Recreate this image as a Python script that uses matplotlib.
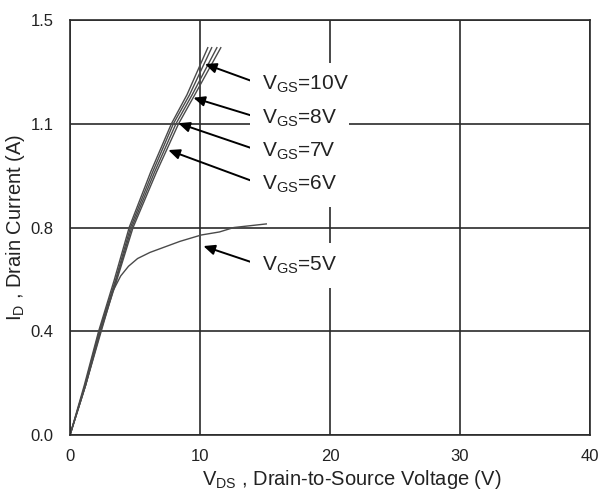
import matplotlib

matplotlib.use("Agg")
import matplotlib.pyplot as plt
import numpy as np

plt.rcParams["font.family"] = ["Liberation Sans", "DejaVu Sans"]
plt.rcParams["mathtext.default"] = "regular"

# Output characteristics, I_D vs V_DS for several gate voltages
vds_10 = [0, 1.1, 2.2, 3.4, 4.55, 6.2, 7.8, 9.0, 10.6]
id_10 = [0, 0.18, 0.375, 0.56, 0.75, 0.95, 1.125, 1.23, 1.40]
vds_8 = [0, 1.15, 2.25, 3.5, 4.65, 6.35, 7.95, 9.2, 10.9]
id_8 = [0, 0.18, 0.375, 0.56, 0.75, 0.95, 1.125, 1.23, 1.40]
vds_7 = [0, 1.2, 2.3, 3.55, 4.75, 6.5, 8.15, 9.4, 11.3]
id_7 = [0, 0.18, 0.375, 0.56, 0.75, 0.95, 1.125, 1.23, 1.40]
vds_6 = [0, 1.2, 2.35, 3.6, 4.85, 6.65, 8.35, 9.6, 11.6]
id_6 = [0, 0.18, 0.375, 0.56, 0.75, 0.95, 1.125, 1.23, 1.40]
vds_5 = [0, 1.2, 2.4, 3.3, 3.9, 4.5, 5.2, 6.15, 8.46, 10.1, 11.5, 12.6, 15.1]
id_5 = [0, 0.18, 0.375, 0.52, 0.575, 0.61, 0.638, 0.66, 0.70, 0.723, 0.734, 0.75, 0.763]

x_ticks = [0, 10, 20, 30, 40]
y_ticks = [0, 0.375, 0.75, 1.125, 1.5]
y_tick_labels = ["0.0", "0.4", "0.8", "1.1", "1.5"]

# label text, arrow tip (V, A), text anchor (V, A)
labels = ["$V_{GS}$=10V", "$V_{GS}$=8V", "$V_{GS}$=7V", "$V_{GS}$=6V", "$V_{GS}$=5V"]
tips = [(10.38, 1.341), (9.49, 1.219), (8.33, 1.127), (7.56, 1.030), (10.26, 0.683)]
text_pos = [(14.75, 1.247), (14.75, 1.124), (14.75, 1.005), (14.75, 0.886), (14.75, 0.593)]

fig = plt.figure(figsize=(6.03, 4.93), dpi=100)
ax = fig.add_axes([0.1161, 0.1176, 0.8623, 0.8418])

line_kw = dict(color="#4a4a4a", lw=1.0)
for vx, iy in [(vds_10, id_10), (vds_8, id_8), (vds_7, id_7), (vds_6, id_6), (vds_5, id_5)]:
    ax.plot(vx, iy, **line_kw)

ax.set_xlim(0, 40)
ax.set_ylim(0, 1.5)
ax.set_xticks(x_ticks)
ax.set_yticks(y_ticks)
ax.set_yticklabels(y_tick_labels)
ax.tick_params(length=0, labelsize=12, labelcolor="#222222")
ax.tick_params(axis="x", pad=10)
ax.tick_params(axis="y", pad=12)
ax.grid(True, color="#2a2a2a", lw=1.2)
ax.set_axisbelow(True)
for sp in ax.spines.values():
    sp.set_color("#2a2a2a")
    sp.set_linewidth(1.2)

for txt, tip, pos in zip(labels, tips, text_pos):
    ax.annotate(
        txt,
        xy=tip,
        xytext=pos,
        fontsize=15,
        color="#222222",
        ha="left",
        va="baseline",
        bbox=dict(boxstyle="square,pad=0.55", fc="white", ec="none"),
        arrowprops=dict(
            arrowstyle="-|>,head_length=0.45,head_width=0.2",
            color="black",
            lw=1.4,
            relpos=(0.0, 0.5),
            shrinkA=0,
            shrinkB=0,
        ),
        zorder=5,
    )

ax.set_xlabel("$V_{DS}$ , Drain-to-Source Voltage (V)", fontsize=14.5, color="#222222")
ax.set_ylabel("$I_{D}$ , Drain Current (A)", fontsize=14.5, color="#222222")
ax.xaxis.set_label_coords(0.542, -0.08)
ax.yaxis.set_label_coords(-0.082, 0.5)

fig.savefig("out.png", dpi=100)
